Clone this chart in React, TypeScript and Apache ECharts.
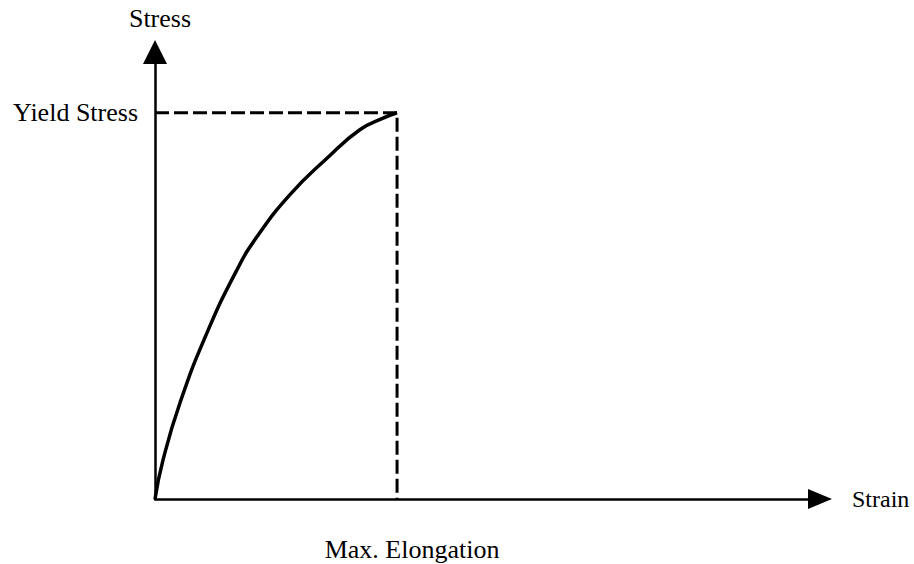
import React, { useEffect, useRef } from "react";
import * as echarts from "echarts";

const curveStrain = [0, 1.2, 3.8, 7.8, 12.3, 15.3, 20.3, 25.9, 30.8, 34.3, 36.4];
const curveStress = [0, 8.7, 21.7, 37.1, 51.2, 58.6, 68.1, 76.3, 82.6, 85.2, 86.4];
const yieldStress = 86.4;
const maxElongation = 36.4;
const axisNames = { x: "Strain", y: "Stress" };
const markLabels = { yieldLabel: "Yield Stress", elongationLabel: "Max. Elongation" };

const FONT = "'Liberation Serif', 'Times New Roman', serif";

export default function App() {
  const ref = useRef<HTMLDivElement>(null);
  useEffect(() => {
    if (!ref.current) return;
    const chart = echarts.init(ref.current, undefined, { renderer: "svg" });
    const curve = curveStrain.map((x, i) => [x, curveStress[i]]);
    chart.setOption({
      animation: false,
      backgroundColor: "#ffffff",
      grid: { left: 155, top: 52, width: 665, height: 447 },
      xAxis: {
        type: "value",
        min: 0,
        max: 100,
        name: axisNames.x,
        nameLocation: "end",
        nameGap: 32,
        nameTextStyle: { fontFamily: FONT, fontSize: 24, color: "#000", align: "left", verticalAlign: "middle" },
        axisLine: { show: true, symbol: ["none", "triangle"], symbolSize: [20, 24], lineStyle: { color: "#000", width: 2.5 } },
        axisTick: { show: false },
        axisLabel: { show: false },
        splitLine: { show: false },
      },
      yAxis: {
        type: "value",
        min: 0,
        max: 100,
        name: axisNames.y,
        nameLocation: "end",
        nameGap: 34,
        nameTextStyle: { fontFamily: FONT, fontSize: 26, color: "#000", align: "center", verticalAlign: "middle", padding: [0, 0, 0, 10] },
        axisLine: { show: true, symbol: ["none", "triangle"], symbolSize: [24, 24], lineStyle: { color: "#000", width: 2.5 } },
        axisTick: { show: false },
        axisLabel: {
          show: true,
          customValues: [yieldStress],
          formatter: () => markLabels.yieldLabel,
          fontFamily: FONT,
          fontSize: 26,
          color: "#000",
          margin: 17,
        },
        splitLine: { show: false },
      },
      series: [
        {
          type: "line",
          data: curve,
          smooth: 0.5,
          symbol: "none",
          lineStyle: { color: "#000", width: 3.5 },
          z: 3,
        },
        {
          type: "line",
          data: [[0, yieldStress], [maxElongation, yieldStress], [maxElongation, 0]],
          symbol: "none",
          lineStyle: { color: "#000", width: 3, type: [14, 5] },
          z: 2,
        },
      ],
      graphic: [
        {
          type: "text",
          x: 412,
          y: 549,
          style: {
            text: markLabels.elongationLabel,
            fontFamily: FONT,
            fontSize: 26,
            fill: "#000",
            align: "center",
            verticalAlign: "middle",
          },
        },
      ],
    });
    return () => chart.dispose();
  }, []);
  return <div ref={ref} style={{ width: 914, height: 564, position: "absolute", left: 0, top: 0 }} />;
}
